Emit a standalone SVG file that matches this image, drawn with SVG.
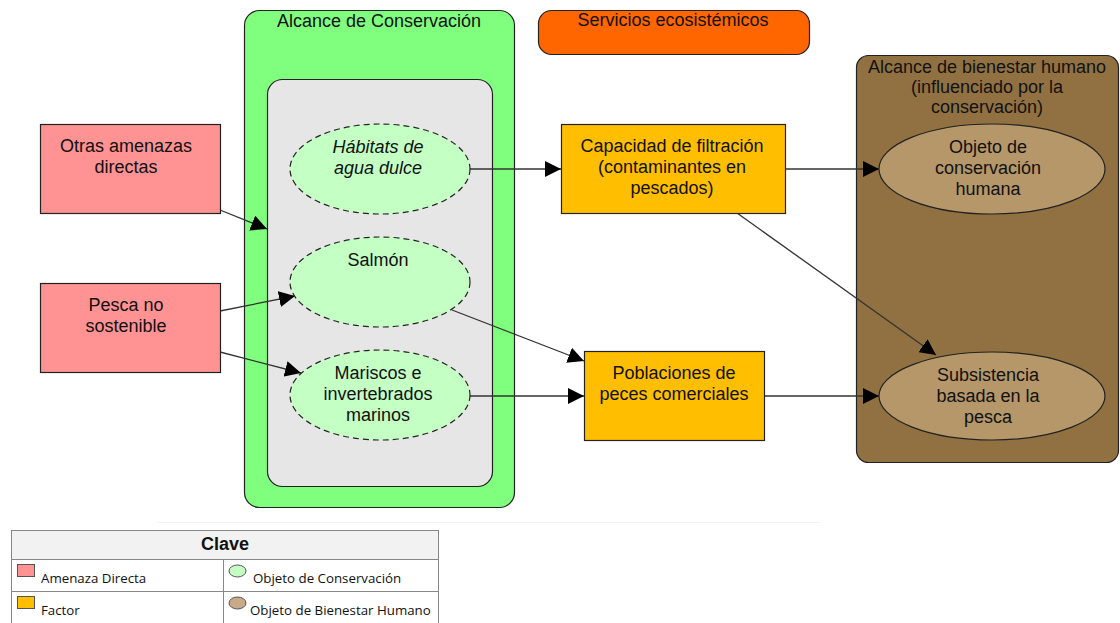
<svg xmlns="http://www.w3.org/2000/svg" width="1120" height="623" viewBox="0 0 1120 623">
<defs>
<marker id="arr" viewBox="0 0 10 10" refX="10" refY="5" markerWidth="16" markerHeight="16" markerUnits="userSpaceOnUse" orient="auto">
<path d="M0,0 L10,5 L0,10 z" fill="#000"/>
</marker>
<style>
text{font-family:"Liberation Sans",Arial,sans-serif;font-size:18px;fill:#111;text-anchor:middle}
.scope{stroke:#222;stroke-width:1.2}
.threat{fill:#ff9393;stroke:#222;stroke-width:1.2}
.factor{fill:#ffbf00;stroke:#222;stroke-width:1.2}
.cons{fill:#c4ffc4;stroke:#222;stroke-width:1.2;stroke-dasharray:6,4}
.hw{fill:#b59769;stroke:#222;stroke-width:1.2}
.conn line{stroke:#333;stroke-width:1.3;marker-end:url(#arr)}
.lg{font-family:"Open Sans","Liberation Sans",sans-serif;font-size:13.3px;text-anchor:start}
.cell{fill:#fff;stroke:#888;stroke-width:1}
</style>
</defs>
<rect width="1120" height="623" fill="#fff"/>
<line x1="157" y1="522.5" x2="820" y2="522.5" stroke="#f2f2f2" stroke-width="1"/>

<g id="scope-conservation">
<rect class="scope" x="244.5" y="10.5" width="270" height="497" rx="15" fill="#80ff7f"/>
<text x="379" y="27">Alcance de Conservación</text>
<rect class="scope" x="267.5" y="79.5" width="225" height="407" rx="15" fill="#e6e6e6"/>
</g>
<g id="ecosystem-services">
<rect class="scope" x="538.5" y="10.5" width="271" height="44" rx="13" fill="#ff6600"/>
<text x="673" y="26">Servicios ecosistémicos</text>
</g>
<g id="scope-wellbeing">
<rect class="scope" x="856.5" y="55.5" width="262" height="407" rx="12" fill="#917141"/>
<text x="987" y="73">Alcance de bienestar humano</text>
<text x="987" y="93">(influenciado por la</text>
<text x="987" y="113">conservación)</text>
</g>

<g class="conn" id="connectors">
<line x1="220" y1="210" x2="267" y2="229"/>
<line x1="220" y1="311" x2="295" y2="296"/>
<line x1="220" y1="352" x2="301" y2="373"/>
<line x1="470" y1="169" x2="561" y2="169"/>
<line x1="452" y1="310" x2="584" y2="361"/>
<line x1="470" y1="396" x2="584" y2="396"/>
<line x1="785" y1="169" x2="879" y2="169"/>
<line x1="737" y1="213" x2="936" y2="355"/>
<line x1="764" y1="396" x2="879" y2="396"/>
</g>

<g id="otras-amenazas">
<rect class="threat" x="40.5" y="124.5" width="180" height="89"/>
<text x="126" y="152">Otras amenazas</text>
<text x="126" y="173">directas</text>
</g>
<g id="pesca-no-sostenible">
<rect class="threat" x="40.5" y="283.5" width="180" height="89"/>
<text x="126" y="311">Pesca no</text>
<text x="126" y="332">sostenible</text>
</g>
<g id="habitats">
<ellipse class="cons" cx="380" cy="169" rx="90" ry="45"/>
<text x="378" y="153" font-style="italic">Hábitats de</text>
<text x="378" y="174" font-style="italic">agua dulce</text>
</g>
<g id="salmon">
<ellipse class="cons" cx="380" cy="282" rx="90" ry="45"/>
<text x="378" y="266">Salmón</text>
</g>
<g id="mariscos">
<ellipse class="cons" cx="380" cy="395" rx="90" ry="45"/>
<text x="378" y="379">Mariscos e</text>
<text x="378" y="400">invertebrados</text>
<text x="378" y="421">marinos</text>
</g>
<g id="capacidad">
<rect class="factor" x="561.5" y="124.5" width="224" height="89"/>
<text x="672" y="152">Capacidad de filtración</text>
<text x="672" y="173">(contaminantes en</text>
<text x="672" y="194">pescados)</text>
</g>
<g id="poblaciones">
<rect class="factor" x="584.5" y="351.5" width="180" height="89"/>
<text x="674" y="379">Poblaciones de</text>
<text x="674" y="400">peces comerciales</text>
</g>
<g id="objeto-humano">
<ellipse class="hw" cx="992" cy="169" rx="113" ry="45"/>
<text x="988" y="153">Objeto de</text>
<text x="988" y="174">conservación</text>
<text x="988" y="195">humana</text>
</g>
<g id="subsistencia">
<ellipse class="hw" cx="992" cy="396" rx="113" ry="44"/>
<text x="988" y="381">Subsistencia</text>
<text x="988" y="402">basada en la</text>
<text x="988" y="423">pesca</text>
</g>

<g id="legend">
<rect x="11.5" y="530.5" width="427" height="29" fill="#f2f2f2" stroke="#888"/>
<rect class="cell" x="11.5" y="559.5" width="212" height="32"/>
<rect class="cell" x="223.5" y="559.5" width="215" height="32"/>
<rect class="cell" x="11.5" y="591.5" width="212" height="34"/>
<rect class="cell" x="223.5" y="591.5" width="215" height="34"/>
<text x="225" y="550" font-family="Open Sans, Liberation Sans, sans-serif" font-size="13" font-weight="bold">Clave</text>
<rect x="17.5" y="564.5" width="17" height="12" fill="#ff9393" stroke="#555"/>
<text class="lg" x="41" y="583">Amenaza Directa</text>
<ellipse cx="237.5" cy="571" rx="8.5" ry="6" fill="#c4ffc4" stroke="#555"/>
<text class="lg" x="253" y="583">Objeto de Conservación</text>
<rect x="17.5" y="596.5" width="17" height="12" fill="#ffbf00" stroke="#555"/>
<text class="lg" x="41" y="615">Factor</text>
<ellipse cx="237.5" cy="603" rx="8.5" ry="6" fill="#c8aa88" stroke="#555"/>
<text class="lg" x="250" y="615">Objeto de Bienestar Humano</text>
</g>
</svg>
